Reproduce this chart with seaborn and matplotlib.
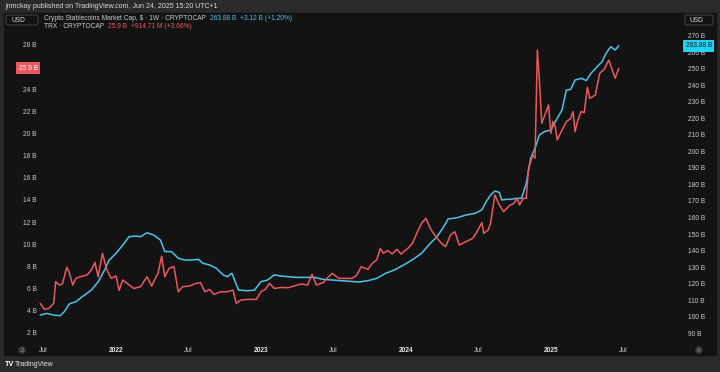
import pandas as pd
import matplotlib.pyplot as plt
import matplotlib.dates as mdates
from matplotlib.patches import Rectangle, FancyBboxPatch
import seaborn as sns

# --- data (billions of USD, weekly closes, approximated) ---
stable_dates = [
    "2021-06-23", "2021-07-10", "2021-07-27", "2021-08-12", "2021-08-23", "2021-09-04",
    "2021-09-21", "2021-10-07", "2021-10-30", "2021-11-16", "2021-12-03", "2021-12-14",
    "2021-12-31", "2022-01-17", "2022-02-02", "2022-02-19", "2022-03-03", "2022-03-19",
    "2022-04-05", "2022-04-22", "2022-05-03", "2022-05-20", "2022-06-06", "2022-06-23",
    "2022-07-10", "2022-07-27", "2022-08-07", "2022-08-24", "2022-09-10", "2022-09-27",
    "2022-10-08", "2022-10-19", "2022-11-05", "2022-11-28", "2022-12-15", "2022-12-31",
    "2023-01-17", "2023-02-03", "2023-02-20", "2023-03-09", "2023-03-31", "2023-04-22",
    "2023-05-15", "2023-06-06", "2023-06-29", "2023-07-21", "2023-08-13", "2023-09-04",
    "2023-09-27", "2023-10-19", "2023-11-11", "2023-12-03", "2023-12-26", "2024-01-17",
    "2024-02-09", "2024-03-02", "2024-03-19", "2024-04-05", "2024-04-16", "2024-05-09",
    "2024-05-31", "2024-06-23", "2024-07-10", "2024-07-21", "2024-08-01", "2024-08-12",
    "2024-08-23", "2024-08-29", "2024-09-09", "2024-09-20", "2024-10-07", "2024-10-18",
    "2024-10-30", "2024-11-10", "2024-11-21", "2024-12-02", "2024-12-14", "2024-12-31",
    "2025-01-16", "2025-01-28", "2025-02-08", "2025-02-19", "2025-03-02", "2025-03-19",
    "2025-03-30", "2025-04-11", "2025-04-27", "2025-05-09", "2025-05-20", "2025-05-31",
    "2025-06-11", "2025-06-20",
]
stable_cap = [
    101.0, 102.0, 101.0, 100.6, 103.1, 107.7,
    109.1, 112.1, 116.1, 121.1, 128.6, 134.3,
    138.3, 143.3, 148.4, 148.8, 148.4, 150.8,
    149.4, 146.4, 139.4, 139.4, 135.3, 134.3,
    134.3, 134.7, 132.3, 131.3, 129.3, 125.3,
    124.2, 126.3, 116.1, 115.7, 116.1, 121.1,
    122.2, 125.3, 124.6, 124.2, 123.8, 123.8,
    123.8, 122.6, 122.2, 121.8, 121.4, 121.0,
    121.8, 123.2, 126.3, 128.3, 131.3, 134.5,
    138.3, 144.4, 148.4, 154.5, 159.1, 159.9,
    161.5, 162.5, 164.6, 169.6, 173.6, 176.0,
    175.2, 170.6, 171.0, 171.0, 171.6, 171.6,
    180.7, 195.8, 201.9, 209.9, 211.9, 212.9,
    220.0, 225.0, 237.1, 237.5, 243.2, 244.2,
    242.8, 247.2, 251.3, 254.3, 259.7, 263.3,
    261.3, 263.88,
]

trx_dates = [
    "2021-06-23", "2021-07-04", "2021-07-15", "2021-07-27", "2021-08-01", "2021-08-10",
    "2021-08-18", "2021-08-29", "2021-09-04", "2021-09-13", "2021-09-21", "2021-10-02",
    "2021-10-19", "2021-10-30", "2021-11-08", "2021-11-16", "2021-11-27", "2021-12-08",
    "2021-12-19", "2021-12-31", "2022-01-08", "2022-01-17", "2022-01-28", "2022-02-14",
    "2022-03-03", "2022-03-19", "2022-03-31", "2022-04-11", "2022-04-16", "2022-04-25",
    "2022-05-03", "2022-05-14", "2022-05-26", "2022-06-06", "2022-06-17", "2022-07-04",
    "2022-07-21", "2022-08-01", "2022-08-12", "2022-08-24", "2022-09-04", "2022-09-21",
    "2022-10-08", "2022-10-22", "2022-10-30", "2022-11-10", "2022-11-28", "2022-12-20",
    "2022-12-31", "2023-01-11", "2023-01-22", "2023-02-03", "2023-02-20", "2023-03-09",
    "2023-03-25", "2023-04-11", "2023-04-28", "2023-05-09", "2023-05-20", "2023-06-06",
    "2023-06-18", "2023-06-29", "2023-07-16", "2023-08-01", "2023-08-18", "2023-08-30",
    "2023-09-10", "2023-09-27", "2023-10-08", "2023-10-19", "2023-10-28", "2023-11-05",
    "2023-11-16", "2023-11-27", "2023-12-09", "2023-12-20", "2023-12-26", "2024-01-06",
    "2024-01-17", "2024-01-28", "2024-02-09", "2024-02-20", "2024-03-02", "2024-03-13",
    "2024-03-30", "2024-04-10", "2024-04-22", "2024-05-03", "2024-05-14", "2024-05-31",
    "2024-06-17", "2024-06-28", "2024-07-10", "2024-07-15", "2024-07-26", "2024-08-01",
    "2024-08-06", "2024-08-12", "2024-08-23", "2024-09-03", "2024-09-15", "2024-09-20",
    "2024-09-29", "2024-10-07", "2024-10-13", "2024-10-22", "2024-10-30", "2024-11-04",
    "2024-11-15", "2024-11-21", "2024-11-27", "2024-12-02", "2024-12-08", "2024-12-19",
    "2024-12-25", "2024-12-31", "2025-01-05", "2025-01-11", "2025-01-16", "2025-01-28",
    "2025-02-08", "2025-02-19", "2025-02-25", "2025-03-02", "2025-03-08", "2025-03-17",
    "2025-03-25", "2025-04-02", "2025-04-08", "2025-04-22", "2025-05-03", "2025-05-14",
    "2025-05-26", "2025-06-03", "2025-06-11", "2025-06-20",
]
trx_cap = [
    4.65, 4.11, 4.20, 4.65, 6.61, 6.31,
    6.40, 7.92, 7.46, 6.31, 6.91, 7.06,
    7.21, 7.67, 8.36, 7.06, 9.17, 7.67,
    6.91, 7.12, 5.83, 6.76, 6.46, 6.00,
    6.16, 7.06, 6.22, 7.06, 7.36, 8.92,
    7.06, 7.82, 7.97, 5.70, 6.16, 6.22,
    6.46, 6.52, 5.70, 5.91, 5.46, 5.70,
    5.70, 5.85, 4.65, 4.95, 5.01, 5.01,
    5.70, 5.91, 6.46, 6.00, 6.09, 6.06,
    6.22, 6.40, 6.31, 7.27, 6.31, 6.52,
    7.00, 7.36, 6.91, 6.91, 6.91, 7.21,
    7.97, 7.73, 8.28, 8.58, 9.60, 9.18,
    9.42, 9.12, 9.54, 9.09, 9.33, 9.63,
    10.08, 10.98, 11.89, 12.34, 11.43, 10.83,
    10.08, 9.78, 10.83, 11.13, 9.93, 10.23,
    10.53, 11.13, 11.95, 10.98, 11.28, 11.89,
    13.09, 14.45, 13.54, 12.94, 13.39, 13.54,
    13.69, 14.14, 13.54, 14.14, 14.14, 16.69,
    18.05, 17.76, 27.55, 24.84, 20.93, 21.98,
    22.58, 20.02, 21.07, 20.62, 19.41, 20.32,
    21.07, 21.37, 21.98, 20.17, 21.07, 21.98,
    21.89, 24.18, 23.18, 23.48, 25.44, 25.80,
    26.64, 25.80, 24.99, 25.90,
]

left_ticks = [2, 4, 6, 8, 10, 12, 14, 16, 18, 20, 22, 24, 28]
right_ticks = [90, 100, 110, 120, 130, 140, 150, 160, 170, 180,
               190, 200, 210, 220, 230, 240, 250, 260, 270]
x_tick_dates = ["2021-07-01", "2022-01-01", "2022-07-01", "2023-01-01", "2023-07-01",
                "2024-01-01", "2024-07-01", "2025-01-01", "2025-07-01"]
x_tick_labels = ["Jul", "2022", "Jul", "2023", "Jul", "2024", "Jul", "2025", "Jul"]

# --- colours ---
FRAME = "#2a2a2a"
PANEL = "#131313"
BLUE = "#4cc3ea"
RED = "#ec5860"
CYAN_TAG = "#22d3f0"
TXT = "#c9cbd1"

sns.set_theme(style="dark")
plt.rcParams["font.family"] = ["Liberation Sans Narrow", "Liberation Sans", "DejaVu Sans"]

stable = pd.DataFrame({"date": pd.to_datetime(stable_dates), "cap": stable_cap})
trx = pd.DataFrame({"date": pd.to_datetime(trx_dates), "cap": trx_cap})

W, H = 720, 372
fig = plt.figure(figsize=(W / 100, H / 100), dpi=100, facecolor=FRAME)

# dark chart panel (behind the axes)
fig.patches.append(Rectangle((4 / W, 1 - 355 / H), 712 / W, 342 / H,
                             transform=fig.transFigure, color=PANEL, zorder=-5))

ax = fig.add_axes([39 / W, 1 - 343 / H, 646 / W, 329 / H])
ax_r = ax.twinx()
ax.set_zorder(ax_r.get_zorder() + 1)
ax.patch.set_visible(False)
ax_r.patch.set_visible(False)

sns.lineplot(data=stable, x="date", y="cap", ax=ax_r, color=BLUE, linewidth=1.1)
sns.lineplot(data=trx, x="date", y="cap", ax=ax, color=RED, linewidth=1.1)

ax.set_xlim(pd.Timestamp("2021-06-20"), pd.Timestamp("2025-12-04"))
ax.set_ylim(1.07, 30.8)
ax_r.set_ylim(84.1, 283.1)

for a in (ax, ax_r):
    a.set_xlabel("")
    a.set_ylabel("")
    a.grid(False)
    for s in a.spines.values():
        s.set_visible(False)

ax.set_yticks(left_ticks)
ax.set_yticklabels([f"{v} B" for v in left_ticks])
ax.tick_params(axis="y", length=0, pad=1.5, labelsize=4.8, labelcolor=TXT)
ax_r.set_yticks(right_ticks)
ax_r.set_yticklabels([f"{v} B" for v in right_ticks])
ax_r.tick_params(axis="y", length=0, pad=2.5, labelsize=4.8, labelcolor=TXT)

ax.set_xticks(mdates.date2num(pd.to_datetime(x_tick_dates)))
ax.set_xticklabels(x_tick_labels)
ax.tick_params(axis="x", length=0, pad=3, labelsize=4.8, labelcolor=TXT)
for lab in ax.get_xticklabels():
    if lab.get_text() != "Jul":
        lab.set_fontweight("bold")
        lab.set_color("#e6e6e6")

# last-value tags on the price scales
ax.text(-0.002, trx_cap[-1], f"{trx_cap[-1]} B", transform=ax.get_yaxis_transform(),
        ha="right", va="center", fontsize=4.8, color="white", zorder=10,
        bbox=dict(boxstyle="square,pad=0.35", fc=RED, ec="none"))
ax_r.text(1.001, stable_cap[-1], f"{stable_cap[-1]:.2f} B", transform=ax_r.get_yaxis_transform(),
          ha="left", va="center", fontsize=4.8, color="#10131a", zorder=10,
          bbox=dict(boxstyle="square,pad=0.35", fc=CYAN_TAG, ec="none"))

# header
fig.text(5 / W, 1 - 7 / H, "jnmckay published on TradingView.com, Jun 24, 2025 15:20 UTC+1",
         fontsize=5, color="#d8d8d8", va="center")

# legend rows: segments placed one after another
renderer = fig.canvas.get_renderer()


def text_row(x_px, y_px, parts, size=4.8):
    for txt, col in parts:
        t = fig.text(x_px / W, 1 - y_px / H, txt, fontsize=size, color=col, va="center")
        x_px += t.get_window_extent(renderer).width + 4


text_row(44, 19, [("Crypto Stablecoins Market Cap, $ \u00b7 1W \u00b7 CRYPTOCAP", TXT),
                  ("263.88 B", BLUE), ("+3.12 B (+1.20%)", BLUE)])
text_row(44, 27, [("TRX \u00b7 CRYPTOCAP", TXT), ("25.9 B", RED),
                  ("+914.71 M (+3.66%)", RED)])

# USD boxes
for x0, x1 in [(6, 38), (685, 713)]:
    fig.patches.append(FancyBboxPatch((x0 / W, 1 - 25 / H), (x1 - x0) / W, 10 / H,
                                      boxstyle="round,pad=0,rounding_size=0.004",
                                      transform=fig.transFigure, fc=PANEL, ec="#4a4a4a",
                                      lw=0.6, zorder=5))
    fig.text((x0 + 5) / W, 1 - 20 / H, "USD", fontsize=4.8, color="#e0e0e0",
             va="center", zorder=6)

# Z / A buttons
for xc, ch in [(22, "Z"), (699, "A")]:
    fig.text(xc / W, 1 - 350 / H, ch, fontsize=3.8, color="#9a9a9a", ha="center", va="center",
             bbox=dict(boxstyle="circle,pad=0.25", fc="#3a3a3a", ec="none"))

# footer logo
fig.text(5 / W, 1 - 364 / H, "TV", fontsize=5.2, color="white", fontweight="bold", va="center")
fig.text(15 / W, 1 - 364 / H, "TradingView", fontsize=5, color="#e8e8e8", va="center")

fig.savefig("out.png", dpi=100, facecolor=FRAME)
